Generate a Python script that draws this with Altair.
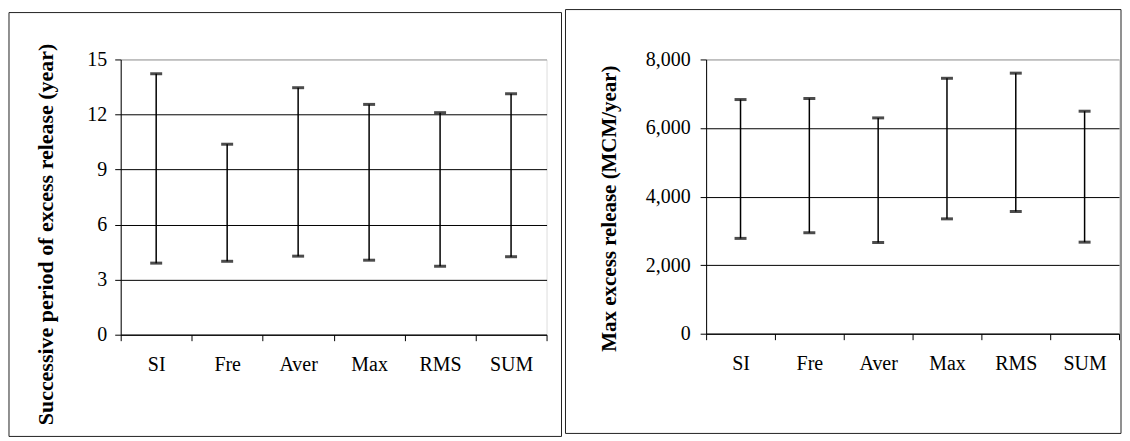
import altair as alt
import pandas as pd

categories = ["SI", "Fre", "Aver", "Max", "RMS", "SUM"]
period_low = [3.9, 4.0, 4.28, 4.06, 3.73, 4.25]
period_high = [14.22, 10.38, 13.46, 12.55, 12.1, 13.13]
release_low = [2780, 2945, 2660, 3350, 3565, 2670]
release_high = [6830, 6860, 6295, 7450, 7600, 6490]

left_ticks = [0, 3, 6, 9, 12, 15]
right_ticks = [0, 2000, 4000, 6000, 8000]

FONT = "Liberation Serif"


def panel(low, high, title, ticks, fmt, w, h, frame, title_pos, label_pad, title_size):
    df = pd.DataFrame({"cat": categories, "low": low, "high": high})
    top = ticks[-1]
    x = alt.X(
        "cat:N",
        sort=categories,
        title=None,
        scale=alt.Scale(paddingInner=0, paddingOuter=0),
        axis=alt.Axis(
            labelAngle=0,
            tickBand="extent",
            tickSize=6,
            tickColor="black",
            domainColor="black",
            labelFont=FONT,
            labelFontSize=20,
            labelColor="black",
            labelPadding=14,
            grid=False,
        ),
    )
    yscale = alt.Scale(domain=[0, top], nice=False, zero=True)
    yaxis = alt.Axis(
        values=ticks,
        format=fmt,
        title=title,
        titleFont=FONT,
        titleFontSize=title_size,
        titleFontWeight="bold",
        titleColor="black",
        titleX=title_pos[0],
        titleY=title_pos[1],
        titleAngle=-90,
        titleAlign="center",
        titleBaseline="middle",
        labelFont=FONT,
        labelFontSize=20,
        labelColor="black",
        labelPadding=label_pad,
        tickSize=6,
        tickColor="black",
        domainColor="black",
        gridColor={"condition": {"test": f"datum.value == {top}", "value": "#9a9a9a"}, "value": "black"},
        gridWidth=1,
    )
    base = alt.Chart(df)
    rules = base.mark_rule(color="black", strokeWidth=1.5).encode(
        x=x, y=alt.Y("low:Q", scale=yscale, axis=yaxis), y2="high:Q"
    )
    cap_hi = base.mark_tick(color="black", thickness=3, size=12).encode(
        x=x, y=alt.Y("high:Q", scale=yscale)
    )
    cap_lo = base.mark_tick(color="black", thickness=3, size=12).encode(
        x=x, y=alt.Y("low:Q", scale=yscale)
    )
    box = alt.Chart(pd.DataFrame({"f": [0]})).mark_rect(
        fill="transparent", stroke="#222222", strokeWidth=1
    ).encode(
        x=alt.value(frame[0]), x2=alt.value(frame[1]),
        y=alt.value(frame[2]), y2=alt.value(frame[3]),
    )
    return alt.layer(box, rules, cap_hi, cap_lo).properties(width=w, height=h)


left = panel(period_low, period_high, "Successive period of excess release (year)",
             left_ticks, "d", 427, 276, (-112, 442, -47, 378), (-75, 175), 8, 22)
right = panel(release_low, release_high, "Max excess release (MCM/year)",
              right_ticks, ",d", 414, 275, (-141, 416, -50, 375), (-97, 149), 10, 21)

chart = alt.hconcat(left, right, spacing=2).properties(padding=0).configure_view(
    stroke="#9a9a9a", strokeWidth=1
).configure(background="white")

chart.save("out.html", embed_options={"renderer": "svg", "actions": False})
